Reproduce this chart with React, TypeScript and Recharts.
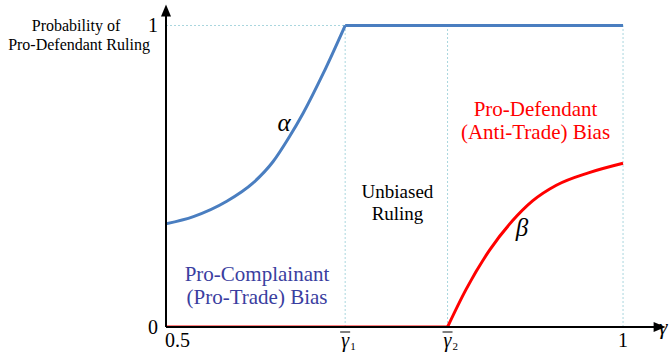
import {
  LineChart,
  Line,
  XAxis,
  YAxis,
  ReferenceLine,
  ReferenceDot,
} from 'recharts'

// thresholds on the gamma axis
const G1 = 0.696
const G2 = 0.808
const X_END = 1.04 // arrow tip of the gamma axis
const Y_END = 1.056 // arrow tip of the probability axis

// alpha: rises convexly up to gamma-bar-1, then flat at 1
const alphaRiseX = [0.5, 0.53, 0.566, 0.595, 0.617, 0.635, 0.65, 0.672, G1]
const alphaRiseY = [0.342, 0.366, 0.416, 0.477, 0.548, 0.631, 0.709, 0.841, 1]
const alphaFlatX = [G1, 1]
const alphaFlatY = [1, 1]

// beta: zero until gamma-bar-2, then rises concavely
const betaZeroX = [0.5, G2]
const betaZeroY = [0, 0]
const betaRiseX = [G2, 0.828, 0.854, 0.879, 0.901, 0.927, 0.963, 1]
const betaRiseY = [0, 0.123, 0.255, 0.352, 0.418, 0.47, 0.512, 0.543]

const xTicks = [0.5, G1, G2, 1]
const yTicks = [0, 1]

const zip = (xs: number[], ys: number[]) => xs.map((x, i) => ({ x, y: ys[i] }))

const FONT = 'Liberation Serif, Tinos, Times New Roman, DejaVu Serif, serif'
const BLUE = '#4a7ec0'
const RED = '#ff0000'
const GRID = '#a9d6de'

function GammaTick(props: any) {
  const { x, y, payload } = props
  const v = payload.value
  if (v === 0.5 || v === 1) {
    return (
      <text
        x={v === 0.5 ? x - 1 : x}
        y={y + 12}
        textAnchor={v === 0.5 ? 'start' : 'middle'}
        style={{ fontFamily: FONT }}
        fontSize={20}
        fill="#000"
      >
        {v === 0.5 ? '0.5' : '1'}
      </text>
    )
  }
  const sub = v === G1 ? '1' : '2'
  return (
    <g>
      <line x1={x - 5} x2={x + 5} y1={y - 3} y2={y - 3} stroke="#000" strokeWidth={1} />
      <text x={x} y={y + 12} textAnchor="middle" style={{ fontFamily: FONT }} fontStyle="italic" fontSize={20} fill="#000">
        γ
      </text>
      <text x={x + 5} y={y + 15} style={{ fontFamily: FONT }} fontSize={11} fill="#000">
        {sub}
      </text>
    </g>
  )
}

function ProbTick(props: any) {
  const { x, y, payload } = props
  return (
    <text x={x} y={y + 7} textAnchor="end" style={{ fontFamily: FONT }} fontSize={20} fill="#000">
      {payload.value}
    </text>
  )
}

const RightArrow = (p: any) => (
  <polygon points={`${p.cx + 6},${p.cy} ${p.cx - 6},${p.cy - 5} ${p.cx - 6},${p.cy + 5}`} fill="#000" />
)
const UpArrow = (p: any) => (
  <polygon points={`${p.cx},${p.cy - 4} ${p.cx - 5},${p.cy + 8} ${p.cx + 5},${p.cy + 8}`} fill="#000" />
)

export default function App() {
  return (
    <div style={{ position: 'absolute', left: 0, top: 0, width: 670, height: 352, background: '#fff', fontFamily: FONT }}>
      <LineChart width={670} height={352} margin={{ top: 8.6, right: 10.4, bottom: 0, left: 136 }}>
        <XAxis
          type="number"
          dataKey="x"
          domain={[0.5, X_END]}
          ticks={xTicks}
          tick={<GammaTick />}
          tickLine={false}
          axisLine={{ stroke: '#000', strokeWidth: 2 }}
          height={25}
          allowDataOverflow
        />
        <YAxis
          type="number"
          dataKey="y"
          domain={[0, Y_END]}
          ticks={yTicks}
          tick={<ProbTick />}
          tickLine={false}
          axisLine={{ stroke: '#000', strokeWidth: 2 }}
          width={30}
          allowDataOverflow
        />
        <ReferenceLine segment={[{ x: 0.5, y: 1 }, { x: 1, y: 1 }]} stroke={GRID} strokeDasharray="2 2" />
        <ReferenceLine segment={[{ x: G1, y: 0 }, { x: G1, y: 1 }]} stroke={GRID} strokeDasharray="2 2" />
        <ReferenceLine segment={[{ x: G2, y: 0 }, { x: G2, y: 1 }]} stroke={GRID} strokeDasharray="2 2" />
        <ReferenceLine segment={[{ x: 1, y: 0 }, { x: 1, y: 1 }]} stroke={GRID} strokeDasharray="2 2" />
        <Line data={zip(alphaRiseX, alphaRiseY)} dataKey="y" type="monotone" stroke={BLUE} strokeWidth={3} dot={false} isAnimationActive={false} />
        <Line data={zip(alphaFlatX, alphaFlatY)} dataKey="y" type="linear" stroke={BLUE} strokeWidth={3} dot={false} isAnimationActive={false} />
        <Line data={zip(betaZeroX, betaZeroY)} dataKey="y" type="linear" stroke={RED} strokeWidth={3} dot={false} isAnimationActive={false} />
        <Line data={zip(betaRiseX, betaRiseY)} dataKey="y" type="monotone" stroke={RED} strokeWidth={3} dot={false} isAnimationActive={false} />
        <ReferenceDot x={X_END} y={0} ifOverflow="visible" shape={RightArrow} />
        <ReferenceDot x={0.5} y={Y_END} ifOverflow="visible" shape={UpArrow} />
      </LineChart>
      <svg width={670} height={352} style={{ position: 'absolute', left: 0, top: 0, pointerEvents: 'none', fontFamily: FONT }}>
        <g>
          <text x={76} y={31} textAnchor="middle" fontSize={16} fill="#000">Probability of</text>
          <text x={79} y={50} textAnchor="middle" fontSize={16} fill="#000">Pro-Defendant Ruling</text>
          <text x={284} y={131} textAnchor="middle" fontSize={25} fontStyle="italic" fill="#000">α</text>
          <text x={522} y={236} textAnchor="middle" fontSize={25} fontStyle="italic" fill="#000">β</text>
          <text x={397.5} y={198} textAnchor="middle" fontSize={19} fill="#000">Unbiased</text>
          <text x={397.5} y={220} textAnchor="middle" fontSize={19} fill="#000">Ruling</text>
          <text x={257} y={281} textAnchor="middle" fontSize={21} fill="#3a3ea0">Pro-Complainant</text>
          <text x={257} y={304} textAnchor="middle" fontSize={21} fill="#3a3ea0">(Pro-Trade) Bias</text>
          <text x={535.5} y={116} textAnchor="middle" fontSize={21} fill={RED}>Pro-Defendant</text>
          <text x={535.5} y={139} textAnchor="middle" fontSize={21} fill={RED}>(Anti-Trade) Bias</text>
          <text x={663} y={334} textAnchor="middle" fontSize={22} fontStyle="italic" fill="#000">γ</text>
        </g>
      </svg>
    </div>
  )
}
